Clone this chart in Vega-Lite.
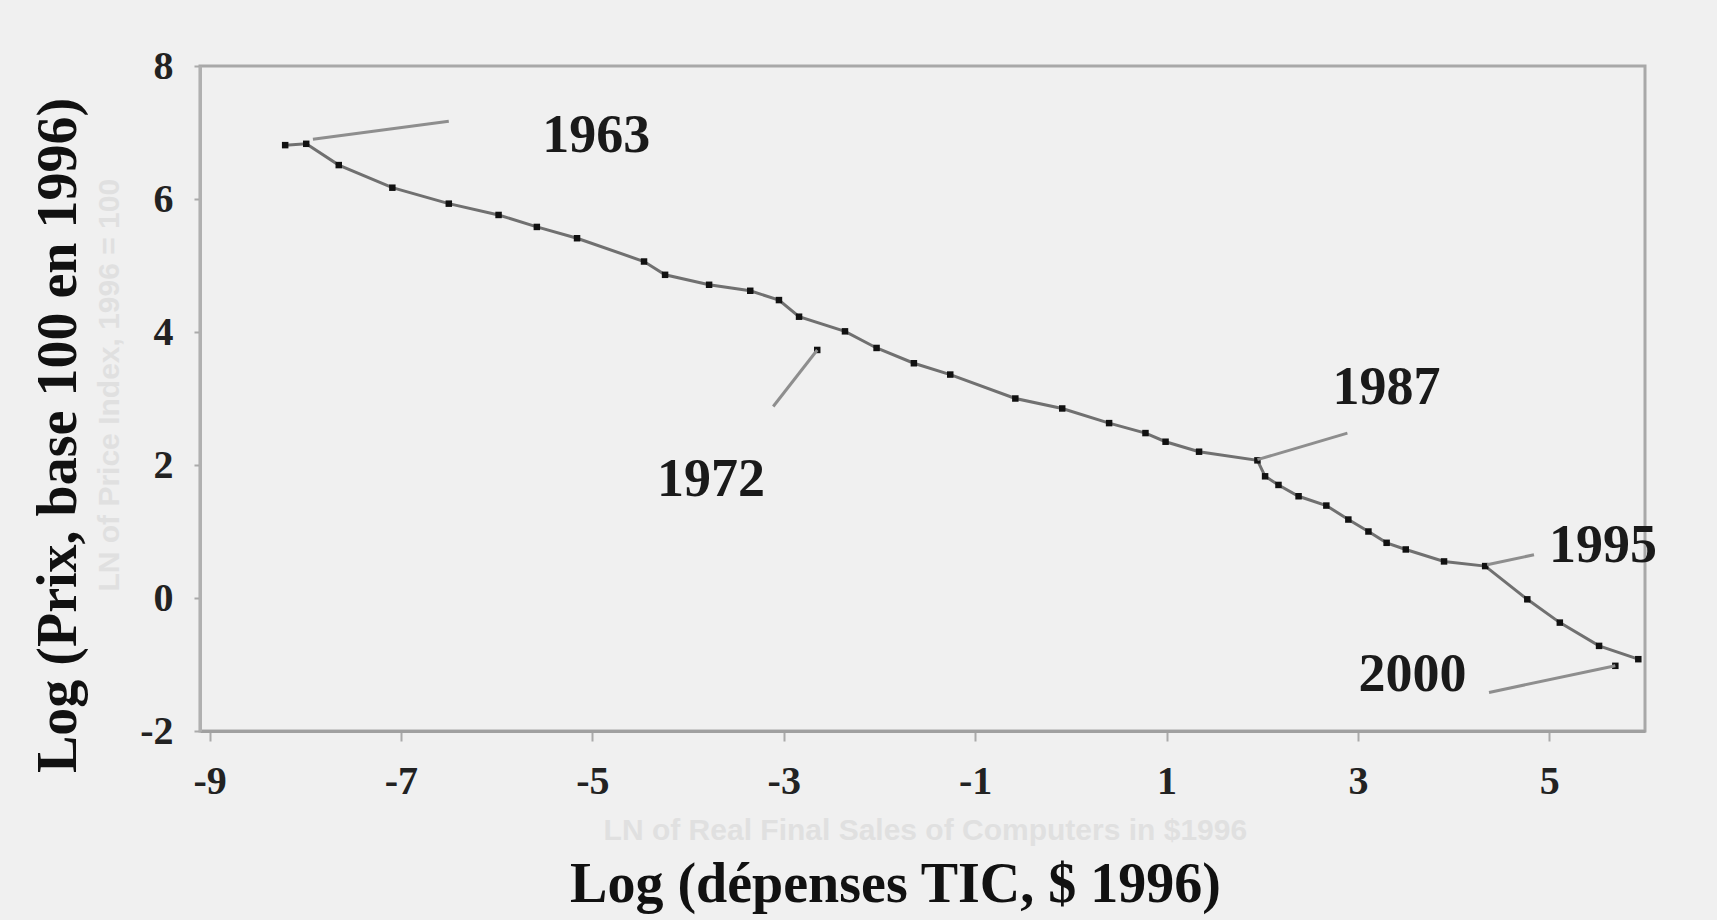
{
  "$schema": "https://vega.github.io/schema/vega-lite/v6.json",
  "width": 1445,
  "height": 665,
  "autosize": {"type": "none"},
  "padding": {"left": 200, "top": 66, "right": 72, "bottom": 189},
  "background": "#f0f0f0",
  "config": {
    "view": {"stroke": "#a8a8a8", "strokeWidth": 3},
    "font": "Liberation Serif"
  },
  "data": {
    "values": [
      {"kind": "pt", "x": -8.21, "y": 6.81}, {"kind": "pt", "x": -7.99, "y": 6.83}, {"kind": "pt", "x": -7.65, "y": 6.51}, {"kind": "pt", "x": -7.09, "y": 6.17},
      {"kind": "pt", "x": -6.5, "y": 5.93}, {"kind": "pt", "x": -5.98, "y": 5.76}, {"kind": "pt", "x": -5.58, "y": 5.58}, {"kind": "pt", "x": -5.16, "y": 5.41},
      {"kind": "pt", "x": -4.46, "y": 5.06}, {"kind": "pt", "x": -4.24, "y": 4.86}, {"kind": "pt", "x": -3.78, "y": 4.71}, {"kind": "pt", "x": -3.35, "y": 4.62},
      {"kind": "pt", "x": -3.05, "y": 4.48}, {"kind": "pt", "x": -2.84, "y": 4.23}, {"kind": "pt", "x": -2.36, "y": 4.01}, {"kind": "pt", "x": -2.03, "y": 3.76},
      {"kind": "pt", "x": -1.64, "y": 3.53}, {"kind": "pt", "x": -1.26, "y": 3.36}, {"kind": "pt", "x": -0.58, "y": 3.0}, {"kind": "pt", "x": -0.09, "y": 2.85},
      {"kind": "pt", "x": 0.4, "y": 2.63}, {"kind": "pt", "x": 0.78, "y": 2.48}, {"kind": "pt", "x": 0.99, "y": 2.35}, {"kind": "pt", "x": 1.34, "y": 2.2},
      {"kind": "pt", "x": 1.95, "y": 2.07}, {"kind": "pt", "x": 2.03, "y": 1.83}, {"kind": "pt", "x": 2.17, "y": 1.7}, {"kind": "pt", "x": 2.38, "y": 1.53},
      {"kind": "pt", "x": 2.67, "y": 1.39}, {"kind": "pt", "x": 2.9, "y": 1.18}, {"kind": "pt", "x": 3.11, "y": 1.0}, {"kind": "pt", "x": 3.3, "y": 0.83},
      {"kind": "pt", "x": 3.5, "y": 0.73}, {"kind": "pt", "x": 3.9, "y": 0.55}, {"kind": "pt", "x": 4.33, "y": 0.48}, {"kind": "pt", "x": 4.77, "y": -0.02},
      {"kind": "pt", "x": 5.11, "y": -0.37}, {"kind": "pt", "x": 5.52, "y": -0.72}, {"kind": "pt", "x": 5.93, "y": -0.92},
      {"kind": "note", "label": "1963", "x": -4.96, "y": 6.71},
      {"kind": "note", "label": "1972", "x": -3.76, "y": 1.53},
      {"kind": "note", "label": "1987", "x": 3.3, "y": 2.91},
      {"kind": "note", "label": "1995", "x": 5.56, "y": 0.54},
      {"kind": "note", "label": "2000", "x": 3.57, "y": -1.4},
      {"kind": "arrow", "x": -6.5, "y": 7.17, "x2": -7.92, "y2": 6.9},
      {"kind": "arrow", "x": -3.11, "y": 2.88, "x2": -2.65, "y2": 3.73},
      {"kind": "arrow", "x": 2.89, "y": 2.48, "x2": 1.95, "y2": 2.08},
      {"kind": "arrow", "x": 4.84, "y": 0.65, "x2": 4.35, "y2": 0.5},
      {"kind": "arrow", "x": 4.37, "y": -1.42, "x2": 5.69, "y2": -1.02},
      {"kind": "tip", "x": -2.65, "y": 3.73},
      {"kind": "tip", "x": 5.69, "y": -1.02},
      {"kind": "ghost", "label": "LN of Real Final Sales of Computers in $1996", "x": -1.52, "y": -3.5, "angle": 0},
      {"kind": "ghost", "label": "LN of Price Index, 1996 = 100", "x": -10.04, "y": 3.2, "angle": 270}
    ]
  },
  "encoding": {
    "x": {
      "field": "x", "type": "quantitative",
      "scale": {"domain": [-9.1, 6], "nice": false, "zero": false},
      "axis": {
        "values": [-9, -7, -5, -3, -1, 1, 3, 5],
        "labelExpr": "'' + datum.value",
        "labelFont": "Liberation Serif", "labelFontWeight": "bold", "labelFontSize": 40, "labelColor": "#222222",
        "tickSize": 10, "tickWidth": 2, "tickColor": "#aaaaaa", "labelPadding": 20,
        "domainColor": "#a0a0a0", "domainWidth": 3, "grid": false,
        "title": "Log (dépenses TIC, $ 1996)",
        "titleFont": "Liberation Serif", "titleFontWeight": "bold", "titleFontSize": 56, "titleColor": "#111111",
        "titleX": 695, "titleY": 170, "titleAlign": "center", "titleBaseline": "alphabetic"
      }
    },
    "y": {
      "field": "y", "type": "quantitative",
      "scale": {"domain": [-2, 8], "nice": false, "zero": false},
      "axis": {
        "values": [-2, 0, 2, 4, 6, 8],
        "labelExpr": "'' + datum.value",
        "labelFont": "Liberation Serif", "labelFontWeight": "bold", "labelFontSize": 40, "labelColor": "#222222",
        "tickSize": 6, "tickWidth": 2, "tickColor": "#aaaaaa", "labelPadding": 21,
        "domainColor": "#b0b0b0", "domainWidth": 3, "grid": false,
        "title": "Log (Prix, base 100 en 1996)",
        "titleFont": "Liberation Serif", "titleFontWeight": "bold", "titleFontSize": 56, "titleColor": "#111111",
        "titleX": -125, "titleY": 369, "titleAngle": -90, "titleAlign": "center", "titleBaseline": "alphabetic"
      }
    }
  },
  "layer": [
    {
      "transform": [{"filter": "datum.kind === 'ghost'"}],
      "mark": {"type": "text", "font": "Liberation Sans", "fontWeight": "bold", "fontSize": 30, "color": "#e0e0e0", "align": "center", "baseline": "middle"},
      "encoding": {
        "text": {"field": "label"},
        "angle": {"field": "angle", "type": "quantitative", "scale": null}
      }
    },
    {
      "transform": [{"filter": "datum.kind === 'pt'"}],
      "mark": {"type": "line", "color": "#707070", "strokeWidth": 3}
    },
    {
      "transform": [{"filter": "datum.kind === 'pt' || datum.kind === 'tip'"}],
      "mark": {"type": "square", "size": 42, "color": "#111111", "filled": true, "opacity": 1}
    },
    {
      "transform": [{"filter": "datum.kind === 'arrow'"}],
      "mark": {"type": "rule", "color": "#8e8e8e", "strokeWidth": 3},
      "encoding": {
        "x2": {"field": "x2"},
        "y2": {"field": "y2"}
      }
    },
    {
      "transform": [{"filter": "datum.kind === 'note'"}],
      "mark": {"type": "text", "font": "Liberation Serif", "fontWeight": "bold", "fontSize": 54, "color": "#1a1a1a", "align": "center", "baseline": "alphabetic"},
      "encoding": {
        "text": {"field": "label"}
      }
    }
  ]
}
